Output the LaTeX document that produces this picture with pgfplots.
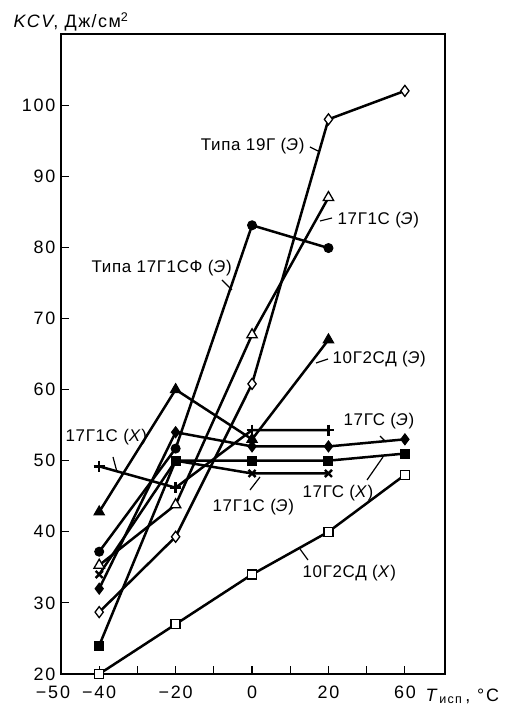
\documentclass[border=0pt]{standalone}
\usepackage{fontspec}
\setmainfont{Liberation Sans}
\usepackage{pgfplots}
\pgfplotsset{compat=1.18}

\newfontfamily\tickff{Liberation Sans}[LetterSpace=10]
\newfontfamily\annff{Liberation Sans}[LetterSpace=4]
\newcommand\tickfont{\tickff\fontsize{18}{18}\selectfont}
\newcommand\annfont{\annff\fontsize{17}{17}\selectfont}

\begin{document}
\begin{tikzpicture}
\useasboundingbox (-61bp,-35bp) rectangle (446bp,674bp);
\begin{axis}[
  at={(0,0)}, anchor=south west,
  scale only axis, width=384bp, height=640bp,
  xmin=-50, xmax=70.5, ymin=20, ymax=110,
  % broken axis: 60 is drawn where 40 would be
  x coord trafo/.code={\pgfmathparse{#1>30 ? #1-20 : #1}},
  xtick={-50,-40,-30,-20,-10,0,10,20,30,60},
  xticklabels={\hspace*{-16bp}−50,−40,,−20,,0,,20,,60},
  ytick={20,30,...,100},
  /pgf/number format/assume math mode=true,
  tick align=inside, major tick length=8bp,
  xtick pos=bottom, ytick pos=left,
  axis line style={line width=1.2bp},
  tick style={line width=1.2bp, black},
  tick label style={font=\tickfont},
  xticklabel style={yshift=-8bp},
  yticklabel style={xshift=-2bp},
  every axis plot/.append style={line width=2.5bp, black},
  clip=false,
]
% 10G2SD (X), open squares
\addplot[mark=square*, mark size=4.5bp, mark options={fill=white, line width=1.3bp}]
  coordinates {(-40,20) (-20,27) (0,34) (20,40) (60,48)};
% 17GS (X), filled squares
\addplot[mark=square*, mark size=4.5bp, mark options={fill=black, line width=1bp}]
  coordinates {(-40,24) (-20,50) (0,50) (20,50) (60,51)};
% 17GS (E), filled diamonds
\addplot[mark=diamond*, mark size=5.5bp, mark options={fill=black, line width=1bp}]
  coordinates {(-40,32) (-20,54) (0,52) (20,52) (60,53)};
% 17G1S (E), crosses
\addplot[mark=x, mark size=5bp, mark options={line width=2.4bp}]
  coordinates {(-40,34) (-20,50) (0,48.2) (20,48.2)};
% 17G1S (X), plus marks
\addplot[mark=+, mark size=5.5bp, mark options={line width=2.4bp}]
  coordinates {(-40,49.2) (-20,46.2) (0,54.3) (20,54.3)};
% 10G2SD (E), filled triangles
\addplot[mark=triangle*, mark size=6bp, mark options={fill=black, line width=1bp}]
  coordinates {(-40,42.8) (-20,60) (0,53) (20,67)};
% 17G1S (E), open triangles
\addplot[mark=triangle*, mark size=6bp, mark options={fill=white, line width=1.3bp}]
  coordinates {(-40,35.3) (-20,43.8) (0,67.7) (20,87)};
% type 17G1SF (E), filled circles
\addplot[mark=*, mark size=4.5bp, mark options={fill=black, line width=1bp}]
  coordinates {(-40,37.2) (-20,51.7) (0,83.1) (20,79.9)};
% type 19G (E), open diamonds
\addplot[mark=diamond*, mark size=5.5bp, mark options={fill=white, line width=1.3bp}]
  coordinates {(-40,28.7) (-20,39.3) (0,60.8) (20,98) (60,102)};
\end{axis}

\begin{scope}[x=1bp, y=1bp, font=\annfont, line width=1.2bp]
\node[anchor=west, inner sep=0] at (-48,652) {\annff\fontsize{18}{18}\selectfont\addfontfeature{LetterSpace=8}\textit{KCV}, Дж/см\textsuperscript{2}};
\node[anchor=base west, inner sep=0] at (364,-27) {\tickfont\textit{T}\textsubscript{исп}\,, °C};

\node[anchor=east, inner sep=0] at (244,528) {Типа 19Г (\textit{Э})};
\draw (249,527) -- (257,523);
\node[anchor=west, inner sep=0] at (276,454) {17Г1С (\textit{Э})};
\draw (259,453) -- (271,456);
\node[anchor=west, inner sep=0] at (30,406) {Типа 17Г1СФ (\textit{Э})};
\draw (161,394) -- (171,384);
\node[anchor=west, inner sep=0] at (271,315) {10Г2СД (\textit{Э})};
\draw (255,311) -- (267,315);
\node[anchor=west, inner sep=0] at (4,237) {17Г1С (\textit{Х})};
\draw (52,217) -- (56,202);
\node[anchor=west, inner sep=0] at (282,253) {17ГС (\textit{Э})};
\draw (319,238) -- (325,232);
\node[anchor=west, inner sep=0] at (241,181) {17ГС (\textit{Х})};
\draw (306,194) -- (322,217);
\node[anchor=west, inner sep=0] at (151,167) {17Г1С (\textit{Э})};
\draw (189,184) -- (199,197);
\node[anchor=west, inner sep=0] at (241,101) {10Г2СД (\textit{Х})};
\draw (239,125) -- (247,114);
\end{scope}
\end{tikzpicture}
\end{document}
